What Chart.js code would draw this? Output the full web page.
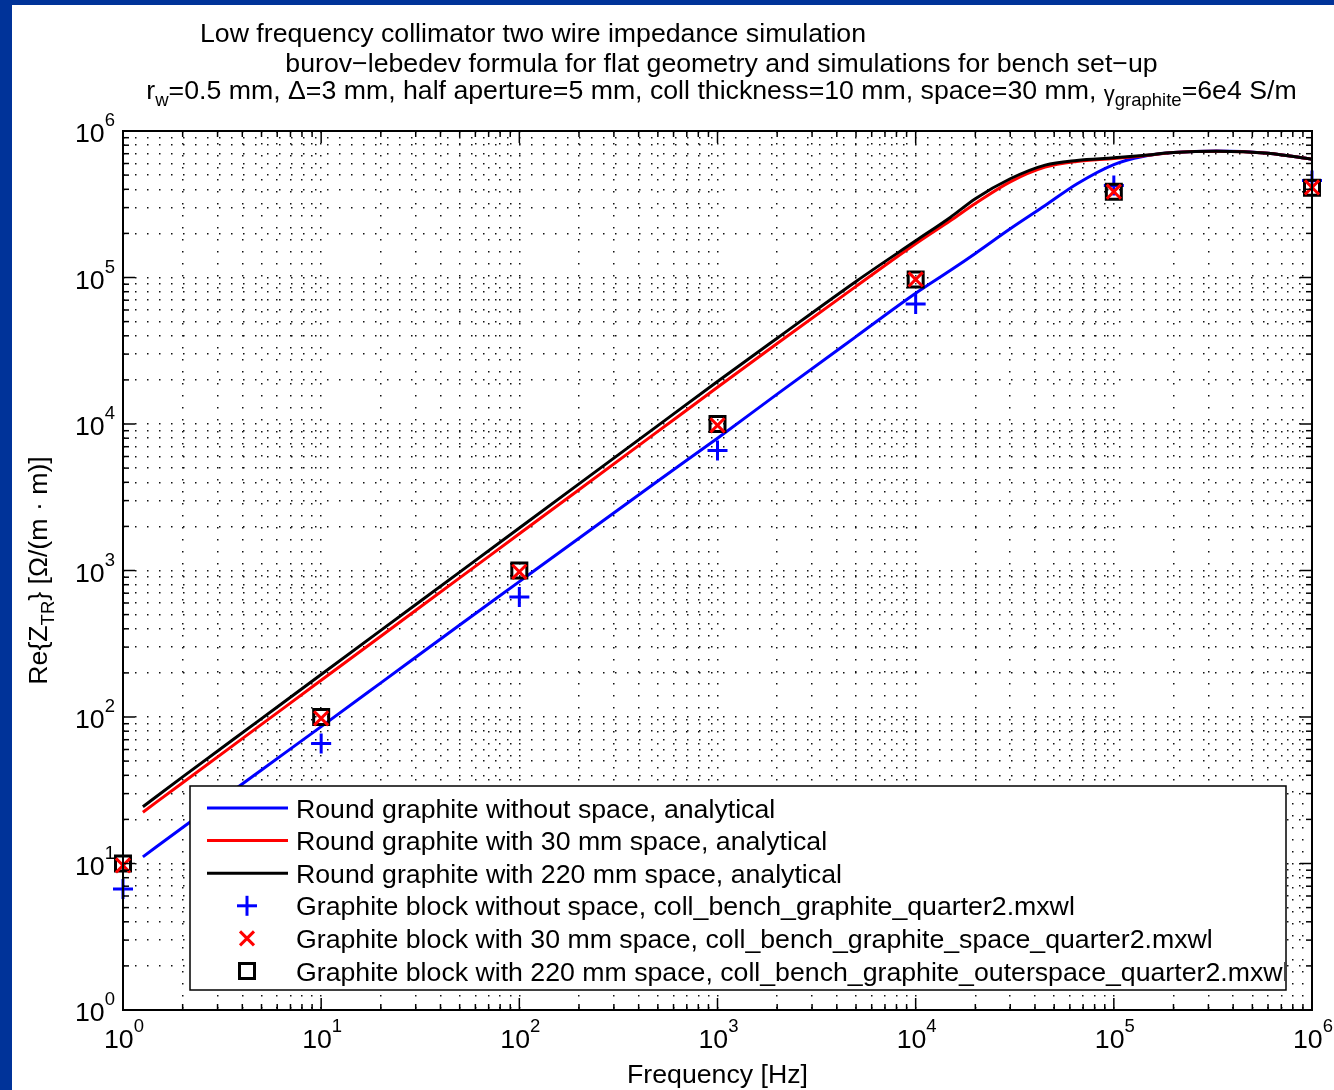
<!DOCTYPE html>
<html>
<head>
<meta charset="utf-8">
<title>Low frequency collimator two wire impedance simulation</title>
<script src="https://cdn.jsdelivr.net/npm/chart.js@4/dist/chart.umd.min.js"></script>
<style>
  html, body { margin: 0; padding: 0; background: #003399; }
  #wrap { position: absolute; left: 12px; top: 5px; width: 1322px; height: 1085px; background: #fff; }
</style>
</head>
<body>
<div id="wrap"><canvas id="chart" width="1322" height="1085"></canvas></div>
<script>
// analytical curves (Hz -> Ohm/(m*m))
const freqHz = [1.26, 2, 5, 10, 20, 50, 100, 200, 500, 1000, 2000, 5000, 10000, 15000, 20000, 30000, 45000, 65000, 100000, 140000, 200000, 330000, 600000, 1000000];
const roundNoSpace = [11.1, 17.6, 43.5, 86, 171, 425, 840, 1660, 4080, 8000, 16000, 39500, 78000, 112000, 146000, 215000, 310000, 435000, 590000, 670000, 712000, 730000, 705000, 642000];
const round30mm = [22.4, 35.6, 89, 178, 356, 890, 1780, 3560, 8900, 17800, 35400, 87000, 170000, 245000, 320000, 450000, 567000, 620000, 648000, 676000, 712000, 728000, 705000, 642000];
const round220mm = [24.4, 39, 97.5, 195, 390, 975, 1950, 3900, 9750, 19500, 38500, 94000, 178000, 258000, 345000, 472000, 585000, 630000, 656000, 680000, 712000, 728000, 705000, 642000];

// simulated points
const simFreqHz = [1, 10, 100, 1000, 10000, 100000, 1000000];
const blockNoSpace = [6.7, 66, 660, 6600, 66000, 425000, 460000];
const block30mm = [9.7, 98, 980, 9800, 97000, 385000, 412000];
const block220mm = [10, 100, 1000, 10000, 97000, 385000, 410000];

// axis ticks
const decadeExps = [0, 1, 2, 3, 4, 5, 6];
const minorSteps = [2, 3, 4, 5, 6, 7, 8, 9];

const legendLabels = [
  "Round graphite without space, analytical",
  "Round graphite with 30 mm space, analytical",
  "Round graphite with 220 mm space, analytical",
  "Graphite block without space, coll_bench_graphite_quarter2.mxwl",
  "Graphite block with 30 mm space, coll_bench_graphite_space_quarter2.mxwl",
  "Graphite block with 220 mm space, coll_bench_graphite_outerspace_quarter2.mxwl"
];

const FONT = '"Liberation Sans", Arial, Helvetica, sans-serif';
const font = (s) => s + "px " + FONT;
const BIG = 26.7;
const SMALL = 18.5;

const tickValues = [];
decadeExps.forEach((e) => {
  tickValues.push(Math.pow(10, e));
  if (e < 6) minorSteps.forEach((m) => tickValues.push(m * Math.pow(10, e)));
});
const isDecade = (v) => Math.abs(Math.log10(v) - Math.round(Math.log10(v))) < 1e-9;

function drawRich(ctx, parts, x, y, align) {
  let total = 0;
  parts.forEach((p) => {
    ctx.font = font(p.size);
    p.w = ctx.measureText(p.text).width;
    total += p.w;
  });
  let cx = align === "center" ? x - total / 2 : align === "right" ? x - total : x;
  parts.forEach((p) => {
    ctx.font = font(p.size);
    ctx.fillText(p.text, cx, y + (p.dy || 0));
    cx += p.w;
  });
  return total;
}

function line(ctx, x1, y1, x2, y2) {
  ctx.beginPath();
  ctx.moveTo(x1, y1);
  ctx.lineTo(x2, y2);
  ctx.stroke();
}

function drawMarker(ctx, style, color, x, y) {
  ctx.save();
  ctx.strokeStyle = color;
  ctx.lineWidth = 3;
  if (style === "cross") {
    line(ctx, x - 10, y, x + 10, y);
    line(ctx, x, y - 10, x, y + 10);
  } else if (style === "crossRot") {
    line(ctx, x - 7, y - 7, x + 7, y + 7);
    line(ctx, x - 7, y + 7, x + 7, y - 7);
  } else {
    ctx.strokeRect(x - 7.5, y - 7.5, 15, 15);
  }
  ctx.restore();
}

const lineSeries = (data, color, order) => ({
  type: "line",
  data: freqHz.map((f, i) => ({ x: f, y: data[i] })),
  borderColor: color,
  backgroundColor: color,
  borderWidth: 3,
  pointRadius: 0,
  cubicInterpolationMode: "monotone",
  order: order
});

const pointSeries = (data, color, style, radius, order) => ({
  type: "line",
  data: simFreqHz.map((f, i) => ({ x: f, y: data[i] })),
  showLine: false,
  borderColor: color,
  backgroundColor: "rgba(0,0,0,0)",
  pointStyle: style,
  pointRadius: radius,
  pointBorderWidth: 3,
  clip: false,
  order: order
});

const decorPlugin = {
  id: "decor",
  afterDatasetsDraw(chart) {
    const ctx = chart.ctx;
    const a = chart.chartArea;
    const xs = chart.scales.x;
    const ys = chart.scales.y;

    // legend box inside the axes
    const box = { x: 178, y: 781, w: 1096, h: 204 };
    ctx.save();
    ctx.fillStyle = "#fff";
    ctx.fillRect(box.x, box.y, box.w, box.h);
    ctx.strokeStyle = "#000";
    ctx.lineWidth = 1.5;
    ctx.strokeRect(box.x, box.y, box.w, box.h);
    ctx.beginPath();
    ctx.rect(box.x, box.y, box.w - 1, box.h);
    ctx.clip();
    ctx.textAlign = "left";
    ctx.textBaseline = "alphabetic";
    chart.data.datasets.forEach((ds, i) => {
      const ry = 803 + i * 32.6;
      if (ds.showLine === false) {
        drawMarker(ctx, ds.pointStyle, ds.borderColor, 235, ry);
      } else {
        ctx.strokeStyle = ds.borderColor;
        ctx.lineWidth = 3;
        line(ctx, 195, ry, 276, ry);
      }
      ctx.fillStyle = "#000";
      ctx.font = font(BIG);
      ctx.fillText(legendLabels[i], 284, ry + 9.5);
    });
    ctx.restore();

    // axes frame with inward ticks on all sides
    ctx.save();
    ctx.strokeStyle = "#000";
    ctx.lineWidth = 1.5;
    xs.ticks.forEach((t) => {
      const px = xs.getPixelForValue(t.value);
      const len = isDecade(t.value) ? 12 : 6;
      line(ctx, px, a.bottom, px, a.bottom - len);
      line(ctx, px, a.top, px, a.top + len);
    });
    ys.ticks.forEach((t) => {
      const py = ys.getPixelForValue(t.value);
      const len = isDecade(t.value) ? 12 : 6;
      line(ctx, a.left, py, a.left + len, py);
      line(ctx, a.right, py, a.right - len, py);
    });
    ctx.lineWidth = 2;
    ctx.strokeRect(a.left, a.top, a.right - a.left, a.bottom - a.top);
    ctx.restore();
  },
  afterDraw(chart) {
    const ctx = chart.ctx;
    const a = chart.chartArea;
    const xs = chart.scales.x;
    const ys = chart.scales.y;
    ctx.save();
    ctx.fillStyle = "#000";
    ctx.textAlign = "left";
    ctx.textBaseline = "alphabetic";

    // decade tick labels
    decadeExps.forEach((e) => {
      const v = Math.pow(10, e);
      const px = xs.getPixelForValue(v);
      drawRich(ctx, [{ text: "10", size: BIG }, { text: String(e), size: SMALL, dy: -16 }], px + 1, a.bottom + 38, "center");
      const py = ys.getPixelForValue(v);
      drawRich(ctx, [{ text: "10", size: BIG }, { text: String(e), size: SMALL, dy: -16 }], a.left - 8, py + 11, "right");
    });

    // axis titles
    drawRich(ctx, [{ text: "Frequency [Hz]", size: BIG }], (a.left + a.right) / 2, 1078, "center");
    ctx.save();
    ctx.translate(25, (a.top + a.bottom) / 2);
    ctx.rotate(-Math.PI / 2);
    drawRich(ctx, [
      { text: "Re{Z", size: BIG },
      { text: "TR", size: SMALL, dy: 7 },
      { text: "} [\u03A9/(m \u00B7 m)]", size: BIG }
    ], 0, 9.5, "center");
    ctx.restore();

    // three line title
    drawRich(ctx, [{ text: "Low frequency collimator two wire impedance simulation", size: BIG }], 188, 37, "left");
    drawRich(ctx, [{ text: "burov\u2212lebedev formula for flat geometry and simulations for bench set\u2212up", size: BIG }], 709.5, 67, "center");
    drawRich(ctx, [
      { text: "r", size: BIG },
      { text: "w", size: SMALL, dy: 7 },
      { text: "=0.5 mm, \u0394=3 mm, half aperture=5 mm, coll thickness=10 mm, space=30 mm, ", size: BIG },
      { text: "\u03B3", size: 22, dy: 2 },
      { text: "graphite", size: SMALL, dy: 7 },
      { text: "=6e4 S/m", size: BIG }
    ], 709.5, 94, "center");
    ctx.restore();
  }
};

const logAxis = {
  type: "logarithmic",
  min: 1,
  max: 1000000,
  afterBuildTicks: (scale) => {
    scale.ticks = tickValues.map((v) => ({ value: v }));
  },
  ticks: { display: false },
  grid: {
    color: "#111",
    lineWidth: 1.5,
    drawTicks: false
  },
  border: { display: false, dash: [1.5, 10.5] }
};

new Chart(document.getElementById("chart").getContext("2d"), {
  data: {
    datasets: [
      lineSeries(roundNoSpace, "#0000ff", 5),
      lineSeries(round30mm, "#ff0000", 4),
      lineSeries(round220mm, "#000000", 3),
      pointSeries(blockNoSpace, "#0000ff", "cross", 10, 2),
      pointSeries(block30mm, "#ff0000", "crossRot", 10, 0),
      pointSeries(block220mm, "#000000", "rect", 10.6, 1)
    ]
  },
  options: {
    responsive: false,
    animation: false,
    devicePixelRatio: 1,
    layout: { padding: { left: 111, top: 126, right: 22, bottom: 80 } },
    scales: {
      x: Object.assign({ position: "bottom" }, logAxis),
      y: Object.assign({ position: "left" }, logAxis)
    },
    plugins: {
      legend: { display: false },
      tooltip: { enabled: false },
      title: { display: false }
    }
  },
  plugins: [decorPlugin]
});
</script>
</body>
</html>
